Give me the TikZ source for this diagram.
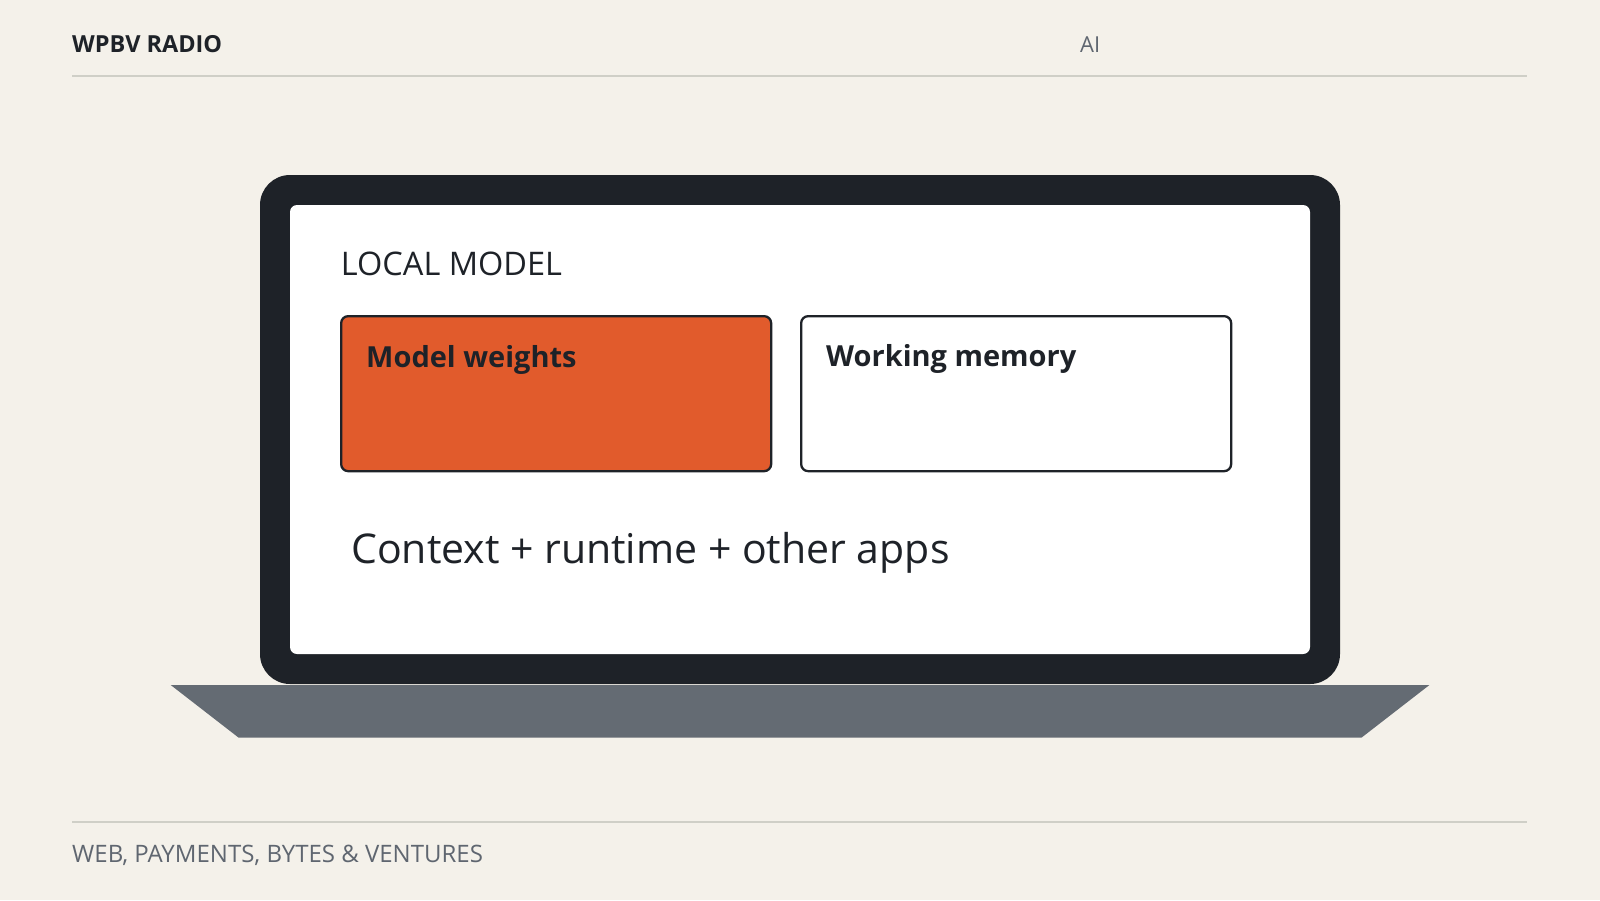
\documentclass[tikz,border=0pt]{standalone}
\usepackage{fontspec}
\setmainfont{Open Sans}
\usetikzlibrary{calc}
\definecolor{paper}{HTML}{F4F1EA}
\definecolor{ink}{HTML}{1E2228}
\definecolor{ember}{HTML}{E15B2C}
\definecolor{slate}{HTML}{646B73}
\definecolor{rule}{HTML}{CFCFC7}
\definecolor{faint}{HTML}{5F6670}
\newcommand{\pxs}[1]{\fontsize{#1}{#1}\selectfont}
\tikzset{
  bzl/.style  ={fill=ink, rounded corners=30pt},
  scr/.style  ={fill=white, rounded corners=7pt},
  stand/.style={fill=slate},
  rl/.style   ={draw=rule, line width=2pt},
  boxw/.style ={draw=ink, line width=2.3pt, fill=ember, rounded corners=7pt, anchor=north west,
                minimum width=430pt, minimum height=155pt, inner sep=0pt},
  boxm/.style ={boxw, fill=white},
  txt/.style  ={inner sep=0pt, anchor=base west, text=ink},
  hdr/.style  ={txt, font=\pxs{23.5}\bfseries},
  sec/.style  ={txt, font=\pxs{22}, text=faint},
  ttl/.style  ={txt, font=\pxs{32.5}},
  lbl/.style  ={txt, font=\pxs{29}\bfseries},
  big/.style  ={txt, font=\pxs{41}},
}

\begin{document}
\begin{tikzpicture}[x=1pt,y=-1pt]
    \fill[paper] (0,0) rectangle (1600,900);
    \useasboundingbox (0,0) rectangle (1600,900);
    % header
    \node[hdr] (brand) at (72,52.3) {WPBV RADIO};
    \node[sec] (topic) at (1080,52.3) {AI};
    \draw[rl] (72,75.7) -- (1527,75.7);
    % laptop
    \fill[stand] (170.7,685) -- (1429.4,685) -- (1361.4,737.7) -- (238.7,737.7) -- cycle;
    \fill[bzl] (260,175) rectangle (1340,684);
    \fill[scr] (290,205) rectangle (1310,654);
    \node[ttl] (head) at (340.7,275) {LOCAL MODEL};
    \node[boxw] (wts) at (340,315) {};
    \node[boxm] (mem) at (800,315) {};
    \node[lbl] at ($(wts.north west)+(26,52.3)$) {Model weights};
    \node[lbl] at ($(mem.north west)+(26,51.7)$) {Working memory};
    \node[big] (ctx) at (351,563.3) {Context + runtime + other apps};
    % footer
    \draw[rl] (72,821.7) -- (1527,821.7);
    \node[sec, font=\pxs{24}] (foot) at (72,862.3) {WEB, PAYMENTS, BYTES \& VENTURES};
  \end{tikzpicture}
\end{document}
